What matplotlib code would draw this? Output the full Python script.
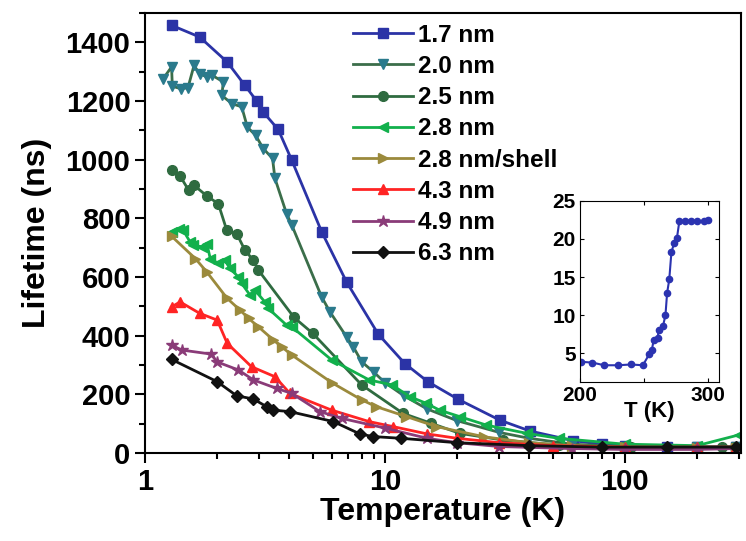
import matplotlib
matplotlib.use('Agg')
import matplotlib.pyplot as plt
from matplotlib.ticker import FixedLocator, MultipleLocator, NullFormatter

plt.rcParams['font.family'] = ['Liberation Sans', 'DejaVu Sans']
plt.rcParams['font.weight'] = 'bold'

# lifetime (ns) vs temperature (K), one pair of lists per sample
t_17 = [1.29, 1.69, 2.20, 2.61, 2.92, 3.11, 3.59, 4.09, 5.45, 6.92, 9.38, 12.1,
        15.1, 20.2, 30.1, 40.2, 60.9, 80, 100, 150, 200, 290]
v_17 = [1458, 1418, 1333, 1253, 1200, 1162, 1103, 998, 754, 583, 405, 305,
        243, 183, 112, 75, 42, 30, 25, 22, 20, 20]

t_20 = [1.19, 1.29, 1.30, 1.41, 1.51, 1.60, 1.69, 1.81, 1.91, 2.12, 2.09, 2.30,
        2.53, 2.67, 2.89, 3.11, 3.40, 3.48, 3.89, 4.09, 5.45, 5.90, 6.92, 7.38,
        8.0, 9.0, 10, 12, 15, 20, 30, 40, 60, 100, 200, 290]
v_20 = [1276, 1316, 1250, 1242, 1245, 1321, 1293, 1282, 1287, 1265, 1219, 1191,
        1180, 1111, 1083, 1038, 1004, 936, 816, 777, 532, 481, 396, 362,
        311, 275, 240, 195, 150, 110, 70, 50, 30, 22, 20, 20]

t_25 = [1.29, 1.40, 1.52, 1.60, 1.81, 2.02, 2.19, 2.41, 2.61, 2.83, 2.97, 4.18,
        5.0, 8.0, 11.9, 15.6, 20.5, 31, 53, 106, 253, 287]
v_25 = [964, 944, 896, 913, 876, 850, 760, 748, 691, 657, 623, 462,
        408, 232, 135, 101, 67, 44, 27, 21, 21, 21]

t_28 = [1.29, 1.38, 1.44, 1.54, 1.59, 1.72, 1.81, 1.87, 2.02, 2.15, 2.26, 2.45,
        2.53, 2.74, 2.87, 3.16, 3.26, 3.89, 4.09, 6.0, 8.6, 10.7, 12.7, 14.9,
        16.9, 20.5, 26.5, 39, 53, 100, 200, 300]
v_28 = [754, 765, 760, 720, 708, 703, 714, 663, 646, 657, 629, 600,
        578, 538, 555, 515, 493, 436, 430, 317, 249, 232, 192, 169,
        146, 124, 95, 67, 50, 30, 25, 62]

t_28s = [1.29, 1.62, 1.81, 2.20, 2.49, 2.70, 2.97, 3.43, 3.71, 4.09, 6.0, 8.0,
         9.2, 12.3, 16.4, 26, 40, 60, 100, 200, 290]
v_28s = [739, 663, 617, 527, 487, 459, 430, 385, 362, 334, 240, 181,
         158, 124, 90, 55, 35, 25, 20, 18, 18]

t_43 = [1.29, 1.40, 1.69, 2.0, 2.20, 2.78, 3.48, 4.02, 6.0, 8.6, 10.8, 15,
        20, 30, 50, 100, 200, 290]
v_43 = [498, 515, 476, 453, 374, 294, 260, 203, 146, 107, 90, 65,
        50, 35, 25, 20, 20, 20]

t_49 = [1.29, 1.42, 1.89, 1.99, 2.45, 2.83, 3.54, 4.09, 5.36, 6.6, 10, 15,
        20, 30, 60, 100, 200, 290]
v_49 = [368, 351, 337, 311, 283, 249, 220, 203, 141, 118, 85, 50,
        35, 22, 15, 12, 12, 15]

t_63 = [1.29, 2.0, 2.41, 2.83, 3.21, 3.43, 4.02, 6.1, 7.86, 8.9, 11.7, 20,
        40, 80, 150, 290]
v_63 = [319, 243, 195, 184, 158, 146, 141, 107, 65, 56, 50, 35,
        25, 20, 20, 20]

labels = ['1.7 nm', '2.0 nm', '2.5 nm', '2.8 nm', '2.8 nm/shell', '4.3 nm',
          '4.9 nm', '6.3 nm']

# inset: 1.7 nm sample near room temperature
inset_t = [201, 209.7, 219, 229.7, 240, 249.3, 254.3, 256.4, 257.7, 260.9,
           261.7, 265.1, 267, 268.3, 270, 271.7, 274, 276, 278, 282.7, 287,
           292, 297, 300]
inset_v = [3.9, 3.8, 3.45, 3.45, 3.55, 3.45, 4.9, 5.5, 6.7, 7.0, 8.1, 8.6,
           10.0, 12.9, 14.7, 18.3, 19.5, 20.1, 22.4, 22.3, 22.4, 22.3, 22.3,
           22.5]

series = [
    (t_17, v_17, 's', '#2b33a6', '#2b33a6'),
    (t_20, v_20, 'v', '#3b6e4a', '#2a7a8c'),
    (t_25, v_25, 'o', '#2f6b40', '#2f6b40'),
    (t_28, v_28, '<', '#12b04c', '#12b04c'),
    (t_28s, v_28s, '>', '#9b8a3c', '#9b8a3c'),
    (t_43, v_43, '^', '#ff2424', '#ff2424'),
    (t_49, v_49, '*', '#8a3b78', '#8a3b78'),
    (t_63, v_63, 'D', '#111111', '#111111'),
]

fig = plt.figure(figsize=(7.46, 5.41), dpi=100)
ax = fig.add_axes([0.1944, 0.1627, 0.7989, 0.8133])

for (t, v, mk, lc, mc), lab in zip(series, labels):
    ms = 9 if mk == '*' else 7
    if mk == 'D':
        ms = 6
    ax.plot(t, v, marker=mk, color=lc, markerfacecolor=mc,
            markeredgecolor=mc, markersize=ms, linewidth=2, label=lab)

ax.set_xscale('log')
ax.set_xlim(1, 305)
ax.set_ylim(0, 1500)
ax.yaxis.set_major_locator(FixedLocator([0, 200, 400, 600, 800, 1000, 1200, 1400]))
ax.yaxis.set_minor_locator(MultipleLocator(100))
ax.xaxis.set_major_locator(FixedLocator([1, 10, 100]))
ax.set_xticklabels(['1', '10', '100'])
ax.xaxis.set_minor_formatter(NullFormatter())
ax.tick_params(which='both', direction='out', width=1.5, labelsize=21)
ax.tick_params(which='major', length=7)
ax.tick_params(which='minor', length=4)
for sp in ax.spines.values():
    sp.set_linewidth(1.5)
ax.set_xlabel('Temperature (K)', fontsize=23, fontweight='bold', labelpad=1)
ax.set_ylabel('Lifetime (ns)', fontsize=23, fontweight='bold', labelpad=10)

leg = ax.legend(loc='upper left', bbox_to_anchor=(0.349, 0.976), frameon=False,
                fontsize=17.5, handlelength=2.45, handletextpad=0.22,
                labelspacing=0.34, borderpad=0, borderaxespad=0)
for txt in leg.get_texts():
    txt.set_fontweight('bold')

ins = fig.add_axes([0.7775, 0.2945, 0.1863, 0.3346])
ins.plot(inset_t, inset_v, marker='o', color='#2b33b0', markersize=4.5,
         linewidth=1.5)
ins.set_xlim(200, 309)
ins.set_ylim(1.3, 25)
ins.xaxis.set_major_locator(FixedLocator([200, 300]))
ins.xaxis.set_minor_locator(FixedLocator([250]))
ins.yaxis.set_major_locator(FixedLocator([5, 10, 15, 20, 25]))
ins.tick_params(which='both', direction='in', top=True, right=True,
                length=3, width=0.8, labelsize=15, pad=3)
for sp in ins.spines.values():
    sp.set_linewidth(0.8)
ins.set_xlabel('T (K)', fontsize=16, fontweight='bold', labelpad=-3)

fig.savefig('out.png', dpi=100)
